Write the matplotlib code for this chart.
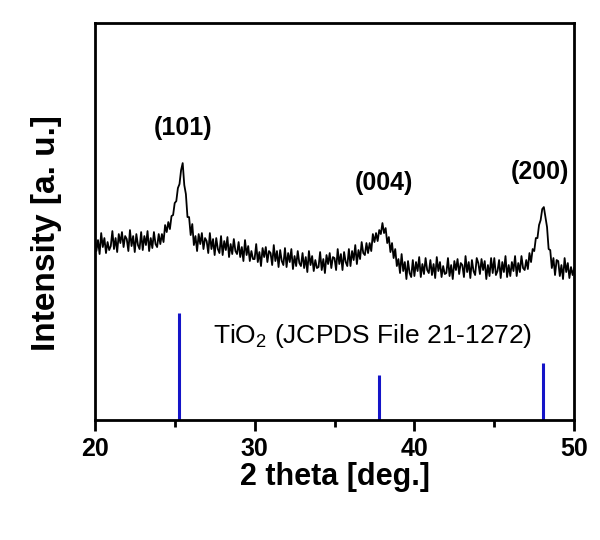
import numpy as np
import matplotlib
matplotlib.use("Agg")
import matplotlib.pyplot as plt
from matplotlib.ticker import MultipleLocator

plt.rcParams['font.family'] = ['Liberation Sans', 'DejaVu Sans']
plt.rcParams['mathtext.default'] = 'regular'

# measured pattern, 20-50 deg in 0.1 deg steps (a.u.)
two_theta = np.round(np.arange(20.0, 50.01, 0.1), 1)
intensity = [
    184, 169, 180, 166, 187, 173, 182, 167, 178, 170,
    174, 189, 171, 182, 168, 186, 177, 188, 173, 184,
    181, 169, 190, 174, 184, 168, 186, 175, 171, 188,
    170, 184, 175, 189, 169, 182, 172, 188, 176, 173,
    186, 176, 186, 178, 195, 188, 198, 191, 204, 205,
    217, 219, 232, 236, 250, 257, 235, 226, 203, 203,
    185, 196, 175, 184, 169, 186, 176, 187, 171, 182,
    179, 167, 187, 171, 181, 165, 182, 171, 167, 184,
    165, 179, 170, 183, 163, 176, 166, 181, 169, 166,
    178, 163, 173, 159, 180, 165, 174, 159, 169, 161,
    161, 176, 158, 168, 154, 172, 163, 173, 158, 169,
    167, 155, 175, 159, 169, 153, 170, 159, 155, 172,
    153, 167, 158, 171, 151, 164, 154, 169, 157, 154,
    167, 152, 163, 148, 169, 155, 164, 149, 160, 152,
    153, 168, 150, 161, 147, 165, 156, 167, 152, 163,
    162, 150, 171, 156, 166, 150, 168, 158, 154, 171,
    154, 169, 160, 175, 156, 170, 161, 178, 167, 165,
    177, 167, 177, 169, 186, 178, 187, 179, 190, 186,
    197, 187, 192, 177, 183, 168, 177, 162, 171, 154,
    161, 147, 166, 149, 158, 141, 159, 147, 143, 160,
    144, 158, 149, 163, 143, 156, 146, 162, 150, 147,
    160, 145, 156, 142, 163, 149, 158, 143, 154, 146,
    147, 162, 144, 155, 141, 159, 150, 161, 146, 157,
    155, 143, 164, 148, 158, 142, 160, 149, 145, 162,
    157, 146, 161, 150, 159, 141, 155, 144, 162, 147,
    162, 145, 149, 160, 142, 158, 148, 164, 143, 155,
    144, 158, 149, 164, 144, 157, 148, 164, 152, 150,
    160, 151, 167, 158, 171, 169, 182, 182, 195, 200,
    211, 213, 203, 193, 171, 170, 152, 162, 145, 160,
    159, 144, 155, 141, 162, 148, 157, 142, 153, 145,
    152,
]

# JCPDS 21-1272 reference lines
ref_pos = [25.28, 37.80, 48.05]
ref_int = [107, 45, 57]

# peak labels
hkl = ["(101)", "(004)", "(200)"]
hkl_x = [25.55, 38.1, 47.85]
hkl_y = [292, 237, 248]

fig = plt.figure(figsize=(6, 5.4), dpi=100)
ax = fig.add_axes([0.158, 0.2222, 0.799, 0.735])

ax.plot(two_theta, intensity, color="black", lw=1.3)
ax.vlines(ref_pos, 0, ref_int, color="#1414c8", lw=2.2)

for lab, x, y in zip(hkl, hkl_x, hkl_y):
    ax.text(x, y, lab, ha="center", va="center", fontsize=18, fontweight="bold")
ax.text(27.4, 77, "TiO$_2$ (JCPDS File 21-1272)", ha="left", va="baseline", fontsize=19)

ax.set_xlim(20, 50)
ax.set_ylim(0, 397)
ax.xaxis.set_major_locator(MultipleLocator(10))
ax.xaxis.set_minor_locator(MultipleLocator(5))
ax.set_yticks([])
ax.tick_params(axis="x", which="major", direction="out", length=8, width=2, labelsize=18, pad=4)
ax.tick_params(axis="x", which="minor", direction="out", length=5, width=2)
for lbl in ax.get_xticklabels():
    lbl.set_fontweight("bold")
for s in ax.spines.values():
    s.set_linewidth(2)

ax.set_xlabel("2 theta [deg.]", fontsize=22, fontweight="bold", labelpad=1)
ax.set_ylabel("Intensity [a. u.]", fontsize=24, fontweight="bold")
ax.yaxis.set_label_coords(-0.069, 0.47)

fig.savefig("out.png", dpi=100)
